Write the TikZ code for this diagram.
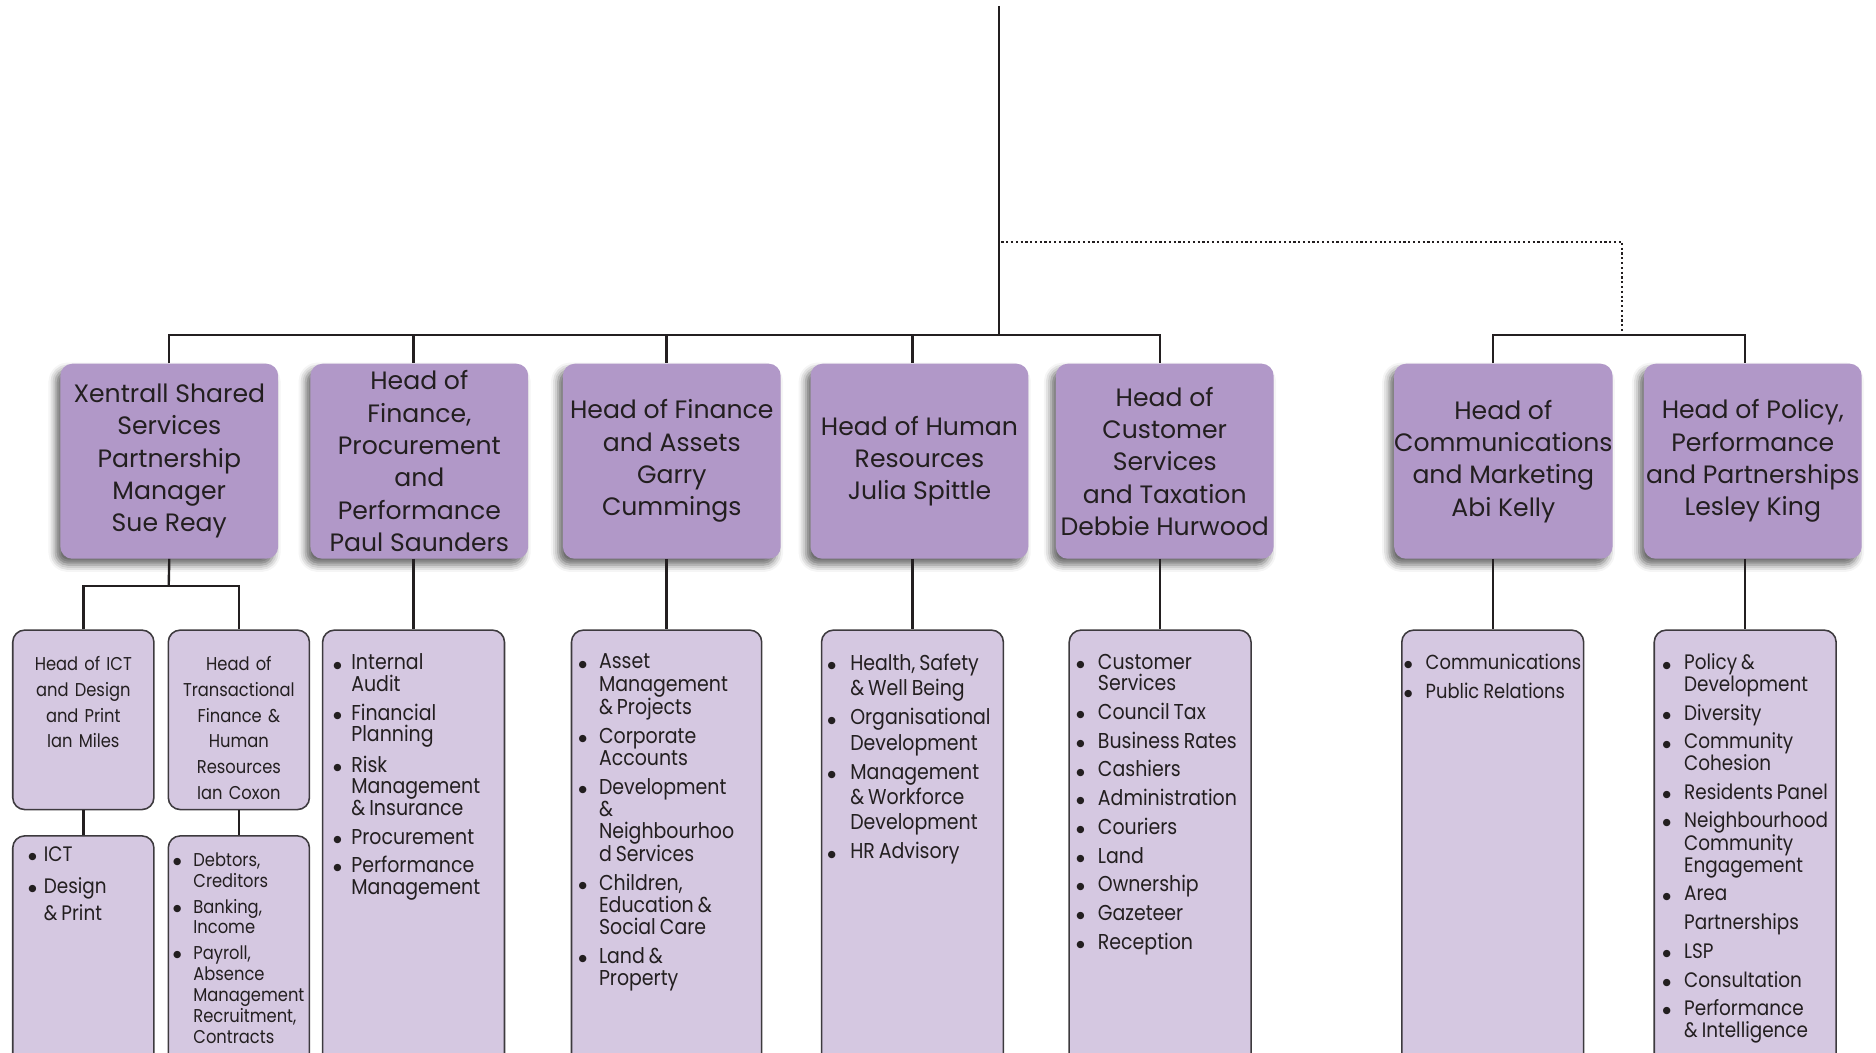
\documentclass[tikz,border=0pt]{standalone}
\usepackage{fontspec}
\setmainfont{Poppins}
\newfontfamily\narrowfont{Poppins}[FakeStretch=0.88]
\newfontfamily\dotfont{DejaVu Sans}
\usepackage{enumitem}
\usetikzlibrary{positioning,calc,shadows.blur}

\definecolor{headfill}{HTML}{B198C8}
\definecolor{boxfill}{HTML}{D5C8E1}
\definecolor{boxline}{HTML}{3D3A3E}
\definecolor{ink}{HTML}{231F20}

% bullet list: size, skip, leftmargin, labelsep, itemsep, items
\newcommand\blist[6]{%
  \parbox[t][360pt][t]{\linewidth}{\rlap{\parbox[t]{300pt}{%
    \narrowfont\fontsize{#1}{#2}\selectfont
    \begin{itemize}[leftmargin=#3,labelsep=#4,itemsep=#5,topsep=0pt,parsep=0pt,partopsep=0pt,
      label=\raisebox{1.6pt}{\dotfont\fontsize{8}{8}\selectfont ●}]
      #6
    \end{itemize}}}}}
\newcommand\subtxt[1]{\parbox[t][106pt][t]{\linewidth}{\centering #1}}

\begin{document}
\begin{tikzpicture}[x=1pt, y=-1pt,
  head/.style={fill=headfill, rounded corners=10pt, minimum width=182pt, minimum height=163pt,
    inner sep=0pt, align=center, text=ink, font=\fontsize{21}{27}\selectfont,
    blur shadow={shadow xshift=-4pt, shadow yshift=-5pt, shadow blur radius=6pt, shadow opacity=60}},
  panel/.style={draw=boxline, fill=boxfill, line width=1.3pt, rounded corners=10pt, text=ink,
    anchor=north west, inner xsep=4pt},
  sub/.style={panel, text width=110pt, inner ysep=22pt, align=center, font=\narrowfont\fontsize{15.5}{21.5}\selectfont},
  lst/.style={panel, text width=#1, inner ysep=20pt},
  conn/.style={line width=2pt, draw=ink},
  dotlink/.style={line width=1.6pt, draw=ink, dash pattern=on 1.8pt off 2.2pt}]

  \useasboundingbox (0,0) rectangle (1568,880);
  \clip (0,0) rectangle (1568,880);

  \def\ty{385.5}
  \def\ly{526}

  % heads
  \node[head] (xsm) at (141.5,\ty) {Xentrall Shared\\Services\\Partnership\\Manager\\Sue Reay};
  \node[head] (fin) at (350.5,\ty) {Head of\\Finance,\\Procurement\\and\\Performance\\Paul Saunders};
  \node[head] (ast) at (561.5,\ty) {Head of Finance\\and Assets\\Garry\\Cummings};
  \node[head] (hr)  at (768.5,\ty) {Head of Human\\Resources\\Julia Spittle};
  \node[head] (cus) at (973.5,\ty) {Head of\\Customer\\Services\\and Taxation\\Debbie Hurwood};
  \node[head] (com) at (1256.5,\ty) {Head of\\Communications\\and Marketing\\Abi Kelly};
  \node[head] (pol) at (1465,\ty) {Head of Policy,\\Performance\\and Partnerships\\Lesley King};

  % xentrall teams
  \node[sub] (ict) at (10,\ly) {\subtxt{Head of ICT\\and Design\\and Print\\Ian Miles}};
  \node[sub] (tfh) at (140,\ly) {\subtxt{Head of\\Transactional\\Finance \&\\Human\\Resources\\Ian Coxon}};
  \node[lst=110pt, inner ysep=9pt] (ictl) at (10,698)
    {\blist{17.5}{22}{22pt}{6pt}{5pt}{\item ICT \item Design\\\& Print}};
  \node[lst=110pt, inner ysep=14pt] (tfhl) at (140,698)
    {\blist{15.5}{17.5}{17pt}{10pt}{4pt}{\item Debtors,\\Creditors \item Banking,\\Income
      \item Payroll,\\Absence\\Management\\Recruitment,\\Contracts}};

  % service lists
  \node[lst=144pt] (finl) at (269,\ly)
    {\blist{18}{18}{20pt}{8pt}{6pt}{\item Internal\\Audit \item Financial\\Planning
      \item Risk\\Management\\\& Insurance \item Procurement \item Performance\\Management}};
  \node[lst=151pt] (astl) at (477,\ly)
    {\blist{18}{18.5}{19pt}{10pt}{5.5pt}{\item Asset\\Management\\\& Projects \item Corporate\\Accounts
      \item Development\\\&\\Neighbourhoo\\d Services \item Children,\\Education \&\\Social Care
      \item Land \&\\Property}};
  \node[lst=144pt] (hrl) at (686,\ly)
    {\blist{18}{21}{20pt}{12pt}{3.5pt}{\item Health, Safety\\\& Well Being \item Organisational\\Development
      \item Management\\\& Workforce\\Development \item HR Advisory}};
  \node[lst=144pt] (cusl) at (893,\ly)
    {\blist{18}{18}{20pt}{11pt}{6pt}{\item Customer\\Services \item Council Tax \item Business Rates
      \item Cashiers \item Administration \item Couriers \item Land \item Ownership
      \item Gazeteer \item Reception}};
  \node[lst=144pt] (coml) at (1171,\ly)
    {\blist{17}{18}{16pt}{11pt}{6pt}{\item Communications \item Public Relations}};
  \node[lst=144pt] (poll) at (1382,\ly)
    {\blist{17.5}{18}{21pt}{11pt}{6pt}{\item Policy \&\\Development \item Diversity
      \item Community\\Cohesion \item Residents Panel \item Neighbourhood\\Community\\Engagement
      \item Area\\[6pt]Partnerships \item LSP \item Consultation \item Performance\\\& Intelligence}};

  % lines
  \coordinate (root) at (835,5);
  \coordinate (hub) at (835,280);
  \coordinate (dot) at (837,202);
  \coordinate (drop) at (1356,280);
  \coordinate (fork) at (141,490);

  \draw[conn] (root) -- (hub);
  \draw[conn] (xsm.north) |- (hub) -| (cusl.north |- cus.north);
  \foreach \h/\l in {fin/finl, ast/astl, hr/hrl}
    \draw[conn] (\l.north |- hub) -- (\l.north |- \h.north);
  \draw[conn] (coml.north |- com.north) |- (drop) -| (poll.north |- pol.north);
  \draw[dotlink] (dot) -| (drop);
  \foreach \h/\l in {fin/finl, ast/astl, hr/hrl, cus/cusl, com/coml, pol/poll}
    \draw[conn] (\l.north |- \h.south) -- (\l.north);

  \draw[conn] (xsm.south) -- (fork);
  \draw[conn] (ict.north) |- (fork) -| (tfh.north);
  \draw[conn] (ict.south) -- (ictl.north);
  \draw[conn] (tfh.south) -- (tfhl.north);

\end{tikzpicture}
\end{document}
